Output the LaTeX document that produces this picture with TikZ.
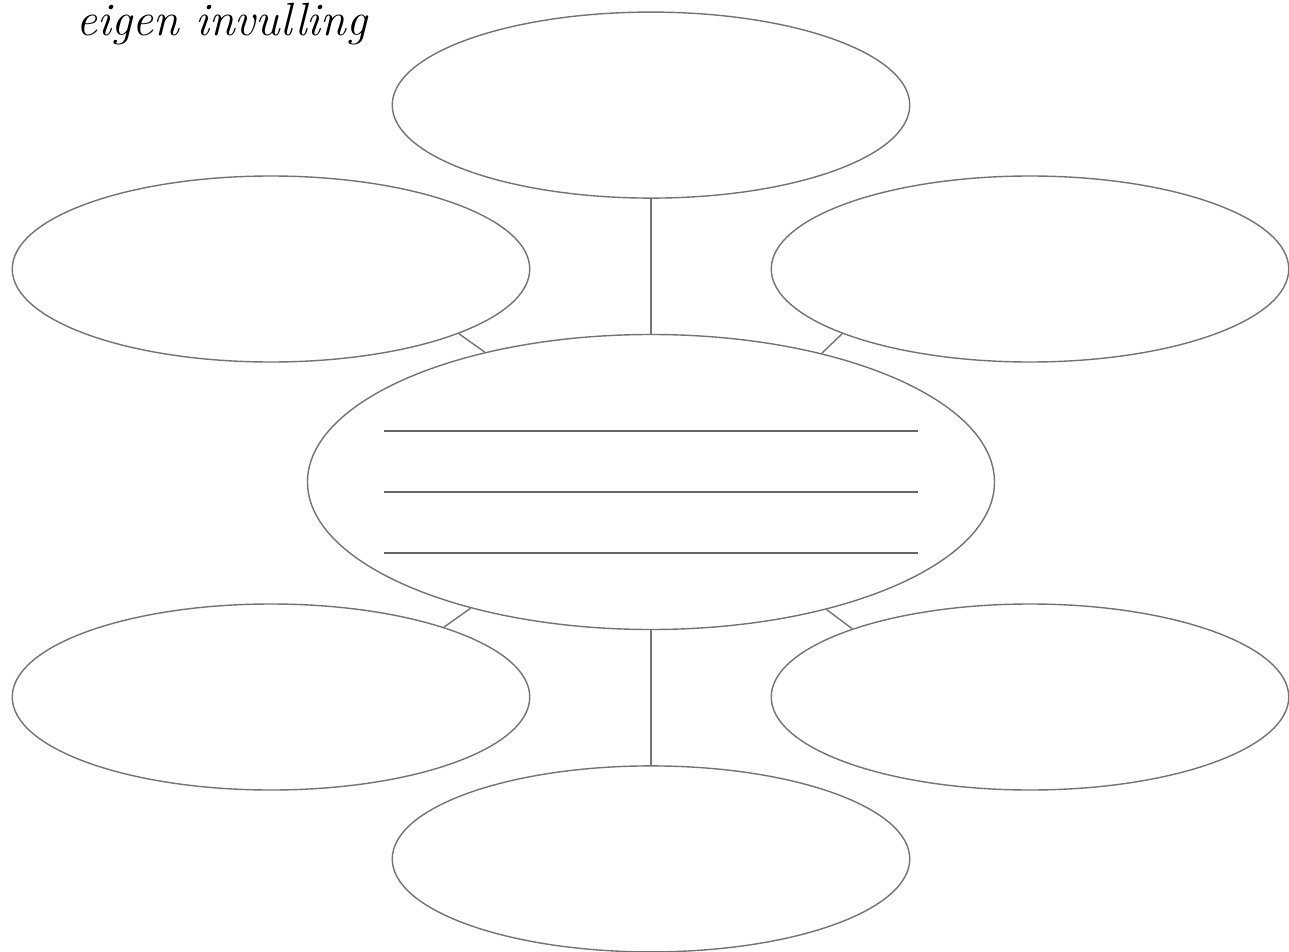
\documentclass[tikz,border=0pt]{standalone}
\usepackage{tikz}
\usetikzlibrary{shapes.geometric, positioning, calc}

\begin{document}
\begin{tikzpicture}[
  bubble/.style={ellipse, draw=black!55, line width=0.8pt, inner sep=0pt, minimum width=10.35cm, minimum height=3.72cm},
  core/.style={ellipse, draw=black!55, line width=0.8pt, inner sep=0pt, minimum width=13.74cm, minimum height=5.9cm},
  link/.style={draw=black!55, line width=0.8pt},
  rule/.style={draw=black!60, line width=0.9pt}
]
\useasboundingbox (-13.02,-9.38) rectangle (12.76,9.64);

% Title
\node[anchor=base west, inner sep=0pt, font=\fontsize{26.5}{30}\selectfont\itshape] (title) at (-11.5,8.92) {eigen invulling};

% Centre and surrounding bubbles
\node[core] (centre) at (0,0) {};
\node[bubble, above=2.7cm of centre] (top) {};
\node[bubble, below=2.7cm of centre] (bottom) {};
\node[bubble] (upleft) at (-7.6,4.26) {};
\node[bubble] (upright) at (7.58,4.26) {};
\node[bubble] (lowleft) at (-7.6,-4.3) {};
\node[bubble] (lowright) at (7.58,-4.3) {};

% Writing lines
\foreach \y in {1.02,-0.2,-1.42}
  \draw[rule] ($(centre)+(-5.34,\y)$) -- ($(centre)+(5.34,\y)$);

% Connectors
\draw[link] (top) -- (centre);
\draw[link] (bottom) -- (centre);
\draw[link] (upleft.-19) -- (centre.142);
\draw[link] (upright.-161) -- (centre.37);
\draw[link] (lowleft.22) -- (centre.-145);
\draw[link] (lowright.159) -- (centre.-36);

\end{tikzpicture}
\end{document}
